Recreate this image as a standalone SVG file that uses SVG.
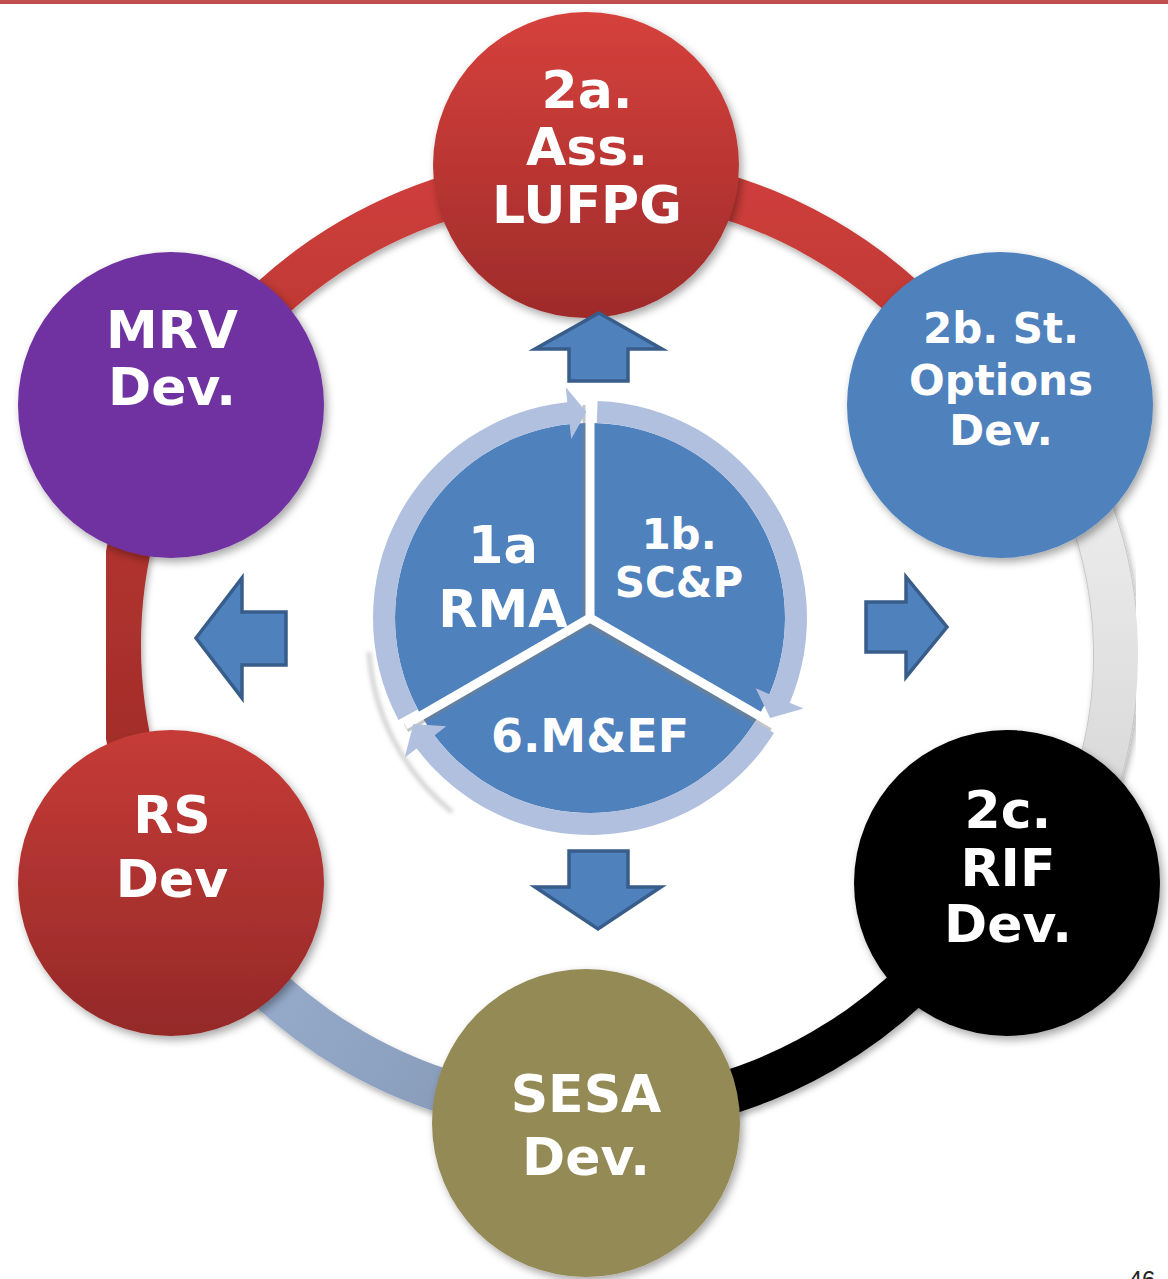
<svg xmlns="http://www.w3.org/2000/svg" width="1168" height="1279" viewBox="0 0 1168 1279">
  <defs>
    <style>
      .lbl { font-family: "DejaVu Sans", Verdana, "Liberation Sans", sans-serif; font-weight: bold; fill: #ffffff; text-anchor: middle; }
      .band { fill: none; stroke-width: 44; }
      .block { fill: #4F81BD; stroke: #385D8A; stroke-width: 3.5; stroke-linejoin: miter; }
      .ring { fill: #B0C0DE; }
      .divider { stroke: #ffffff; stroke-width: 9; stroke-linecap: butt; }
      .divshade { stroke: #7f7f7f; stroke-opacity: 0.45; stroke-width: 9; stroke-linecap: butt; }
    </style>
    <filter id="shadow" x="-20%" y="-20%" width="140%" height="140%">
      <feDropShadow dx="3" dy="4" stdDeviation="4" flood-color="#000" flood-opacity="0.35"/>
    </filter>
    <filter id="bandShadow" x="-20%" y="-20%" width="140%" height="140%">
      <feDropShadow dx="2" dy="4" stdDeviation="3" flood-color="#000" flood-opacity="0.3"/>
    </filter>
    <filter id="soft" x="-20%" y="-20%" width="140%" height="140%">
      <feGaussianBlur stdDeviation="2"/>
    </filter>
    <linearGradient id="gRed2a" x1="0" y1="0" x2="0" y2="1">
      <stop offset="0" stop-color="#D6413C"/>
      <stop offset="1" stop-color="#9E2B2A"/>
    </linearGradient>
    <linearGradient id="gRedRS" x1="0" y1="0" x2="0" y2="1">
      <stop offset="0" stop-color="#C63B37"/>
      <stop offset="1" stop-color="#942928"/>
    </linearGradient>
    <linearGradient id="gTopArc" gradientUnits="userSpaceOnUse" x1="0" y1="170" x2="0" y2="420">
      <stop offset="0" stop-color="#CF3F3B"/>
      <stop offset="1" stop-color="#B63431"/>
    </linearGradient>
    <linearGradient id="gLeftArc" gradientUnits="userSpaceOnUse" x1="0" y1="420" x2="0" y2="880">
      <stop offset="0" stop-color="#B83532"/>
      <stop offset="1" stop-color="#9C2A28"/>
    </linearGradient>
    <linearGradient id="gBlueArc" gradientUnits="userSpaceOnUse" x1="180" y1="880" x2="590" y2="1115">
      <stop offset="0" stop-color="#9DB3D3"/>
      <stop offset="1" stop-color="#8194B2"/>
    </linearGradient>
    <linearGradient id="gGreyArc" gradientUnits="userSpaceOnUse" x1="0" y1="390" x2="0" y2="900">
      <stop offset="0" stop-color="#F3F3F3"/>
      <stop offset="1" stop-color="#D2D2D2"/>
    </linearGradient>
  </defs>

  <rect x="0" y="0" width="1168" height="1279" fill="#ffffff"/>
  <!-- header rule -->
  <rect x="0" y="0" width="1168" height="4" fill="#C0504D"/>

  <!-- outer cycle connectors -->
  <g id="connectors">
    <path class="band" filter="url(#bandShadow)" stroke="url(#gTopArc)" d="M181.8,410.5 A469,469 0 0 1 588,176"/>
    <path class="band" filter="url(#bandShadow)" stroke="url(#gTopArc)" d="M588,176 A469,469 0 0 1 994.2,410.5"/>
    <path class="band" filter="url(#bandShadow)" stroke="url(#gLeftArc)" d="M181.8,879.5 A469,469 0 0 1 181.8,410.5"/>
    <path class="band" filter="url(#bandShadow)" stroke="url(#gBlueArc)" d="M588,1114 A469,469 0 0 1 181.8,879.5"/>
    <path class="band" filter="url(#bandShadow)" stroke="#000000" d="M994.2,879.5 A469,469 0 0 1 588,1114"/>
    <path d="M1017.3,383.7 A422,422 0 0 1 1031,909" fill="none" stroke="#C8C8C8" stroke-width="46" filter="url(#bandShadow)"/>
    <path class="band" stroke="url(#gGreyArc)" d="M1017.3,383.7 A422,422 0 0 1 1031,909"/>
  </g>

  <!-- outer nodes -->
  <g id="node-2a">
    <circle cx="586" cy="165" r="153" fill="url(#gRed2a)" filter="url(#shadow)"/>
    <text class="lbl" font-size="52" x="587" y="108">2a.</text>
    <text class="lbl" font-size="52" x="587" y="165">Ass.</text>
    <text class="lbl" font-size="52" x="587" y="223">LUFPG</text>
  </g>
  <g id="node-2b">
    <circle cx="1000" cy="405" r="153" fill="#4F81BD" filter="url(#shadow)"/>
    <text class="lbl" font-size="42" x="1001" y="343">2b. St.</text>
    <text class="lbl" font-size="42" x="1001" y="395">Options</text>
    <text class="lbl" font-size="42" x="1001" y="445">Dev.</text>
  </g>
  <g id="node-2c">
    <circle cx="1007" cy="883" r="153" fill="#000000" filter="url(#shadow)"/>
    <text class="lbl" font-size="52" x="1008" y="828">2c.</text>
    <text class="lbl" font-size="52" x="1008" y="886">RIF</text>
    <text class="lbl" font-size="52" x="1008" y="942">Dev.</text>
  </g>
  <g id="node-sesa">
    <circle cx="586" cy="1123" r="154" fill="#948A54" filter="url(#shadow)"/>
    <text class="lbl" font-size="52" x="586" y="1112">SESA</text>
    <text class="lbl" font-size="52" x="586" y="1175">Dev.</text>
  </g>
  <g id="node-rs">
    <circle cx="171" cy="883" r="153" fill="url(#gRedRS)" filter="url(#shadow)"/>
    <text class="lbl" font-size="52" x="172" y="833">RS</text>
    <text class="lbl" font-size="52" x="172" y="897">Dev</text>
  </g>
  <g id="node-mrv">
    <circle cx="171" cy="405" r="153" fill="#7030A0" filter="url(#shadow)"/>
    <text class="lbl" font-size="52" x="172" y="348">MRV</text>
    <text class="lbl" font-size="52" x="172" y="405">Dev.</text>
  </g>

  <!-- central cycle -->
  <g id="node-core">
    <path d="M369,652 A226,226 0 0 0 452,812" fill="none" stroke="#8c8c8c" stroke-opacity="0.45" stroke-width="4" filter="url(#soft)"/>
    <circle cx="590" cy="618" r="195" fill="#4F81BD"/>
    <!-- sector dividers -->
    <line class="divshade" x1="587" y1="620" x2="587" y2="405"/>
    <line class="divshade" x1="589" y1="622" x2="406" y2="728"/>
    <line class="divshade" x1="589" y1="622" x2="772" y2="728"/>
    <line class="divider" x1="590" y1="618" x2="590" y2="404"/>
    <line class="divider" x1="590" y1="618" x2="405" y2="725"/>
    <line class="divider" x1="590" y1="618" x2="775" y2="725"/>
    <!-- circular arrows -->
    <path class="ring" d="M398.4,719.9 A217,217 0 0 1 567.3,402.2 L565.8,387.3 L586.4,412.0 L571.2,439.0 L569.6,424.1 A195,195 0 0 0 417.8,709.5 Z"/>
    <path class="ring" d="M597.6,401.1 A217,217 0 0 1 789.7,702.8 L803.6,708.6 L770.2,717.9 L755.7,688.3 L769.5,694.2 A195,195 0 0 0 596.8,423.1 Z"/>
    <path class="ring" d="M774.0,733.0 A217,217 0 0 1 416.7,748.6 L404.7,757.6 L413.4,724.1 L446.3,726.3 L434.3,735.4 A195,195 0 0 0 755.4,721.3 Z"/>
    <text class="lbl" font-size="51" x="503" y="563">1a</text>
    <text class="lbl" font-size="51" x="503" y="627">RMA</text>
    <text class="lbl" font-size="42" x="679" y="549">1b.</text>
    <text class="lbl" font-size="42" x="679" y="597">SC&amp;P</text>
    <text class="lbl" font-size="46" x="590" y="752">6.M&amp;EF</text>
  </g>

  <!-- block arrows from the core -->
  <g id="arrows">
    <path class="block" d="M599,313 L662,349 L628,349 L628,381 L569,381 L569,349 L535,349 Z"/>
    <path class="block" d="M569,851 L628,851 L628,887 L661,887 L598,929 L535,887 L569,887 Z"/>
    <path class="block" d="M196,638 L242,578 L242,612 L286,612 L286,665 L242,665 L242,698 Z"/>
    <path class="block" d="M866,602 L906,602 L906,577 L947,627 L906,677 L906,652 L866,652 Z"/>
  </g>

  <!-- slide number, running off the lower edge -->
  <text x="1142" y="1288" font-family="'Liberation Sans', Arial, sans-serif" font-size="24" fill="#222" text-anchor="middle">46</text>
</svg>
